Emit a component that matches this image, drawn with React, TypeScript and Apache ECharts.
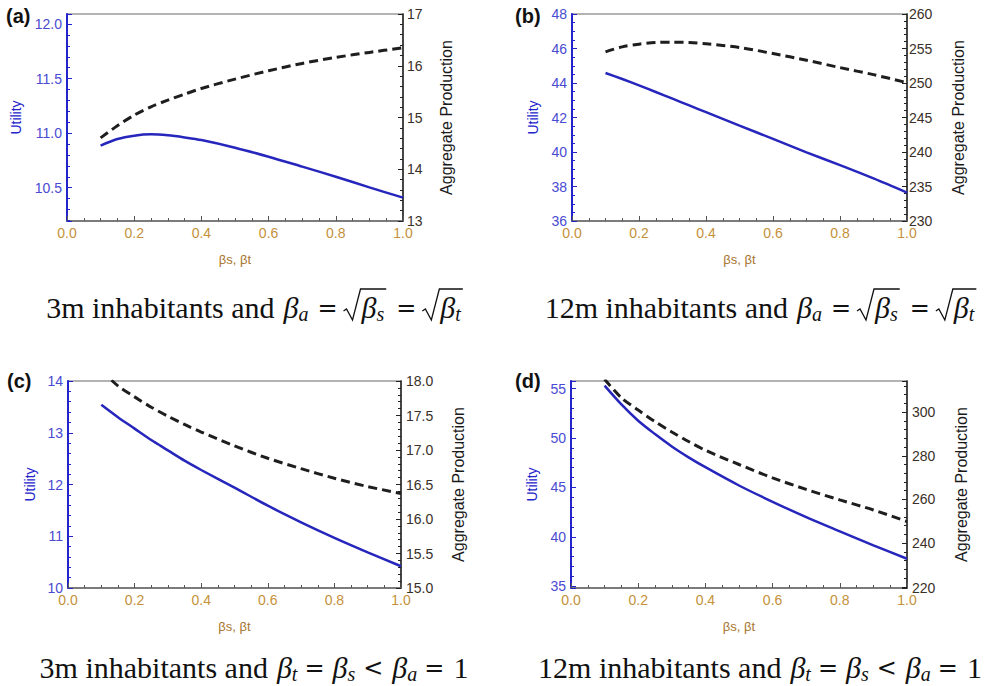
import React, { useEffect, useRef } from 'react';
import * as echarts from 'echarts';

// ---------- data ----------
const betaX = [0.1, 0.15, 0.2, 0.25, 0.3, 0.35, 0.4, 0.5, 0.6, 0.7, 0.8, 0.9, 1.0];

const utilityA = [10.885, 10.946, 10.977, 10.989, 10.98, 10.961, 10.937, 10.867, 10.784, 10.693, 10.601, 10.503, 10.409];
const productionA = [14.606, 14.84, 15.045, 15.206, 15.335, 15.45, 15.561, 15.742, 15.903, 16.045, 16.161, 16.258, 16.348];

const utilityB = [44.58, 44.23, 43.86, 43.48, 43.09, 42.7, 42.31, 41.53, 40.76, 39.98, 39.24, 38.47, 37.65];
const productionB = [254.51, 255.24, 255.63, 255.87, 255.92, 255.87, 255.68, 255.15, 254.27, 253.3, 252.23, 251.21, 250.05];

const utilityC = [13.54, 13.3, 13.08, 12.86, 12.66, 12.46, 12.28, 11.94, 11.59, 11.27, 10.97, 10.69, 10.42];
const productionC = [18.15, 17.93, 17.77, 17.62, 17.49, 17.37, 17.26, 17.06, 16.88, 16.73, 16.59, 16.47, 16.37];

const utilityD = [55.3, 53.4, 51.75, 50.4, 49.15, 48.05, 47.05, 45.2, 43.55, 42.0, 40.56, 39.14, 37.79];
const productionD = [315.0, 306.5, 300.9, 295.6, 290.9, 286.5, 282.5, 276.0, 269.9, 264.6, 259.8, 255.2, 249.9];

// axis extents [min, max, interval | null]
const utilityAxisA = [10.195, 12.092, null];
const productionAxisA = [13, 17, 1];
const utilityAxisB = [36, 48, 2];
const productionAxisB = [230, 260, 5];
const utilityAxisC = [10, 14, 1];
const productionAxisC = [15, 18, 0.5];
const utilityAxisD = [34.83, 55.77, null];
const productionAxisD = [219.5, 314.2, null];

const panelLabels = ['(a)', '(b)', '(c)', '(d)'];
const xAxisTitle = 'βs, βt';
const leftAxisTitle = 'Utility';
const rightAxisTitle = 'Aggregate Production';

// ---------- layout & style ----------
const BLUE = '#2626bc';
const BLUE_AXIS = '#2424cc';
const BLUE_LABEL = '#4a4ad2';
const X_LABEL = '#c4913a';
const X_TITLE = '#a8742e';
const RIGHT_LABEL = '#3a3028';
const SANS = 'Liberation Sans, Arial, sans-serif';

const panels = [
  { left: 67, top: 14, width: 336, height: 207, u: utilityA, p: productionA, ua: utilityAxisA, pa: productionAxisA, uSplit: 4, pSplit: 5, uDec: 1, pDec: 0, uGap: 44, pGap: 35, uMinor: 5, pMinor: 5, pMargin: 4, label: [6, 16], cap: [255, 307] },
  { left: 572, top: 14, width: 335, height: 207, u: utilityB, p: productionB, ua: utilityAxisB, pa: productionAxisB, uSplit: 6, pSplit: 6, uDec: 0, pDec: 0, uGap: 32, pGap: 43, uMinor: 4, pMinor: 5, pMargin: 2, label: [515, 16], cap: [761, 307] },
  { left: 68, top: 381, width: 333, height: 207, u: utilityC, p: productionC, ua: utilityAxisC, pa: productionAxisC, uSplit: 4, pSplit: 6, uDec: 0, pDec: 1, uGap: 31, pGap: 49, uMinor: 5, pMinor: 5, pMargin: 5, label: [7, 381], cap: [254, 667] },
  { left: 571, top: 381, width: 336, height: 207, u: utilityD, p: productionD, ua: utilityAxisD, pa: productionAxisD, uSplit: 4, pSplit: 5, uDec: 0, pDec: 0, uGap: 32, pGap: 46, uMinor: 5, pMinor: 5, pMargin: 5, label: [515, 381], cap: [760, 667] },
];

// ---------- caption (math) builder ----------
type Tok = { t?: string; it?: boolean; sub?: boolean; rel?: boolean; gl?: number; gr?: number; sqrt?: Tok[] };
const captionA: Tok[] = [
  { t: '3m inhabitants and', gr: 9 }, { t: 'β', it: true }, { t: 'a', it: true, sub: true },
  { t: '=', rel: true, gl: 9, gr: 6 },
  { sqrt: [{ t: 'β', it: true }, { t: 's', it: true, sub: true }] },
  { t: '=', rel: true, gl: 9, gr: 6 },
  { sqrt: [{ t: 'β', it: true }, { t: 't', it: true, sub: true }] },
];
const captionB: Tok[] = [{ t: '12m inhabitants and', gr: 9 }, ...captionA.slice(1)];
const captionC: Tok[] = [
  { t: '3m inhabitants and', gr: 9 }, { t: 'β', it: true }, { t: 't', it: true, sub: true },
  { t: '=', rel: true, gl: 7, gr: 8 },
  { t: 'β', it: true }, { t: 's', it: true, sub: true },
  { t: '<', rel: true, gl: 8, gr: 9 },
  { t: 'β', it: true }, { t: 'a', it: true, sub: true },
  { t: '=', rel: true, gl: 7, gr: 9 }, { t: '1' },
];
const captionD: Tok[] = [{ t: '12m inhabitants and', gr: 9 }, ...captionC.slice(1)];
const captions = [captionA, captionB, captionC, captionD];

const SERIF = '"Liberation Serif", "DejaVu Serif", serif';
const REL_FONT = '"DejaVu Sans", sans-serif';
const MAIN = 30;
const SUBS = 20;
const RELS = 24;

function measure(ctx: CanvasRenderingContext2D, t: string, size: number, it: boolean, family: string) {
  ctx.font = `${it ? 'italic ' : ''}${size}px ${family}`;
  return ctx.measureText(t).width;
}

function layout(ctx: CanvasRenderingContext2D, toks: Tok[], x0: number, out: any[]): number {
  let x = x0;
  for (const tok of toks) {
    if (tok.sqrt) {
      const rx = x;
      x += 18;
      x = layout(ctx, tok.sqrt, x, out);
      out.push({
        type: 'polyline',
        shape: { points: [[rx, 4], [rx + 3, 2], [rx + 9, 13], [rx + 17, -18], [x + 2, -18]] },
        style: { stroke: '#111', lineWidth: 1.3, fill: 'none' },
      });
      x += 3;
    } else {
      x += tok.gl || 0;
      const size = tok.rel ? RELS : tok.sub ? SUBS : MAIN;
      const family = tok.rel ? REL_FONT : SERIF;
      out.push({
        type: 'text',
        x,
        y: tok.sub ? 7 : tok.rel ? 1 : 0,
        style: {
          text: tok.t,
          fontSize: size,
          fontFamily: family,
          fontStyle: tok.it ? 'italic' : 'normal',
          fill: '#111',
          align: 'left',
          verticalAlign: 'middle',
        },
      });
      x += measure(ctx, tok.t || '', size, !!tok.it, family);
      x += tok.gr || 0;
    }
  }
  return x;
}

function buildCaption(toks: Tok[], cx: number, cy: number) {
  const ctx = document.createElement('canvas').getContext('2d') as CanvasRenderingContext2D;
  const children: any[] = [];
  const total = layout(ctx, toks, 0, children);
  return { type: 'group', x: cx - total / 2, y: cy, children };
}

function fmt(dec: number) {
  return (v: number) => v.toFixed(dec);
}

export default function App() {
  const ref = useRef<HTMLDivElement>(null);
  useEffect(() => {
    if (!ref.current) return;
    const chart = echarts.init(ref.current, null, { renderer: 'svg' });

    const grid: any[] = [];
    const xAxis: any[] = [];
    const yAxis: any[] = [];
    const series: any[] = [];
    const graphic: any[] = [];

    panels.forEach((pn, i) => {
      grid.push({
        left: pn.left, top: pn.top, width: pn.width, height: pn.height,
        show: true, borderColor: '#9a9a9a', borderWidth: 1.5, backgroundColor: 'transparent',
      });
      xAxis.push({
        gridIndex: i, type: 'value', min: 0, max: 1, interval: 0.2,
        axisLine: { show: true, onZero: false, lineStyle: { color: '#6a6a6a', width: 1.5 } },
        axisTick: { show: true, inside: true, length: 5, lineStyle: { color: '#555', width: 1 } },
        minorTick: { show: true, splitNumber: 4, length: 3, lineStyle: { color: '#555', width: 1 } },
        splitLine: { show: false },
        axisLabel: { formatter: fmt(1), color: X_LABEL, fontSize: 14, margin: 5, fontFamily: SANS },
        name: xAxisTitle, nameLocation: 'middle', nameGap: 32,
        nameTextStyle: { color: X_TITLE, fontSize: 13, fontFamily: SANS },
      });
      const [umin, umax, uint] = pn.ua as any[];
      const [pmin, pmax, pint] = pn.pa as any[];
      const uExact = uint != null;
      const pExact = pint != null;
      yAxis.push({
        gridIndex: i, type: 'value', position: 'left', min: umin, max: umax,
        ...(uExact ? { interval: uint } : { splitNumber: pn.uSplit }),
        axisLine: { show: true, onZero: false, lineStyle: { color: BLUE_AXIS, width: 2 } },
        axisTick: { show: true, inside: true, length: 5, lineStyle: { color: BLUE_AXIS, width: 1 } },
        minorTick: { show: true, splitNumber: pn.uMinor, length: 3, lineStyle: { color: BLUE_AXIS, width: 1 } },
        splitLine: { show: false },
        axisLabel: {
          formatter: fmt(pn.uDec), color: BLUE_LABEL, fontSize: 14, margin: 5,
          fontFamily: SANS, showMinLabel: uExact, showMaxLabel: uExact,
        },
        name: leftAxisTitle, nameLocation: 'middle', nameGap: pn.uGap,
        nameTextStyle: { color: BLUE_AXIS, fontSize: 14, fontFamily: SANS },
      });
      yAxis.push({
        gridIndex: i, type: 'value', position: 'right', min: pmin, max: pmax,
        ...(pExact ? { interval: pint } : { splitNumber: pn.pSplit }),
        axisLine: { show: true, onZero: false, lineStyle: { color: '#222', width: 1.5 } },
        axisTick: { show: true, inside: true, length: 5, lineStyle: { color: '#222', width: 1 } },
        minorTick: { show: true, splitNumber: pn.pMinor, length: 3, lineStyle: { color: '#222', width: 1 } },
        splitLine: { show: false },
        axisLabel: {
          formatter: fmt(pn.pDec), color: RIGHT_LABEL, fontSize: 14, margin: pn.pMargin,
          fontFamily: SANS, showMinLabel: pExact || pn.pa === productionAxisD, showMaxLabel: pExact,
        },
        name: rightAxisTitle, nameLocation: 'middle', nameGap: pn.pGap,
        nameTextStyle: { color: '#1a1a1a', fontSize: 16, fontFamily: SANS },
      });
      series.push({
        type: 'line', xAxisIndex: i, yAxisIndex: 2 * i,
        data: betaX.map((x, k) => [x, pn.u[k]]),
        showSymbol: false, symbol: 'none', smooth: 0.3, clip: true,
        lineStyle: { color: BLUE, width: 2.5 },
        z: 3,
      });
      series.push({
        type: 'line', xAxisIndex: i, yAxisIndex: 2 * i + 1,
        data: betaX.map((x, k) => [x, pn.p[k]]),
        showSymbol: false, symbol: 'none', smooth: 0.3, clip: true,
        lineStyle: { color: '#1e1e1e', width: 3, type: [9, 5] },
        z: 3,
      });
      graphic.push({
        type: 'text', x: pn.label[0], y: pn.label[1],
        style: {
          text: panelLabels[i], fontSize: 20, fontWeight: 'bold',
          fontFamily: SANS, fill: '#111', align: 'left', verticalAlign: 'middle',
        },
      });
      graphic.push(buildCaption(captions[i], pn.cap[0], pn.cap[1]));
    });

    chart.setOption({
      animation: false,
      backgroundColor: '#ffffff',
      grid, xAxis, yAxis, series, graphic,
    });
    return () => chart.dispose();
  }, []);

  return (
    <div
      ref={ref}
      style={{ position: 'fixed', left: 0, top: 0, width: 986, height: 686, background: '#fff' }}
    />
  );
}
